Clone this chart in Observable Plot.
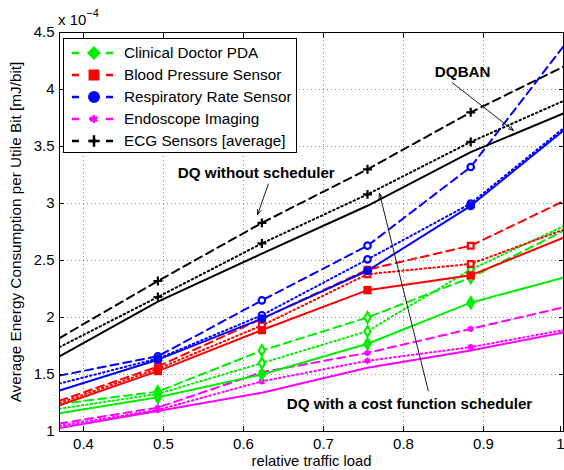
<!DOCTYPE html>
<html>
<head>
<meta charset="utf-8">
<script src="https://cdn.jsdelivr.net/npm/d3@7"></script>
<script src="https://cdn.jsdelivr.net/npm/@observablehq/plot@0.6"></script>
<style>
  html, body { margin: 0; padding: 0; background: #fff; }
  #wrap { position: relative; width: 564px; height: 470px; font-family: "Liberation Sans", Arial, Helvetica, sans-serif; }
  #exp { position: absolute; left: 58px; top: 9px; font-size: 15px; color: #000; }
  #exp sup { font-size: 11px; position: relative; top: -2px; }
  #legend { position: absolute; left: 63px; top: 38px; width: 234px; height: 115px; border: 1px solid #000; background: #fff; box-sizing: border-box; }
  .row { position: absolute; left: 0; height: 22px; display: flex; align-items: center; font-size: 15.3px; }
  .row svg { display: block; }
  .row span { margin-left: 2px; white-space: nowrap; }
</style>
</head>
<body>
<div id="wrap">
  <div id="chart"></div>
  <div id="exp">x 10<sup>−4</sup></div>
  <div id="legend"></div>
</div>
<script>
// ---- data ----
const categories = ["Clinical Doctor PDA", "Blood Pressure Sensor", "Respiratory Rate Sensor", "Endoscope Imaging", "ECG Sensors [average]"];
const colors = ["#00ee00", "#ff0000", "#0000ff", "#ff00ff", "#000000"];
const symbols = ["diamond", "square", "circle", "asterisk", "plus"];
const trafficLoad = [0.37, 0.493, 0.623, 0.755, 0.884, 1.0];
const markerIdx = [1, 2, 3, 4];

// DQBAN (solid)
const dqbanPDA = [1.16, 1.30, 1.50, 1.77, 2.13, 2.35];
const dqbanBP = [1.23, 1.53, 1.89, 2.24, 2.37, 2.70];
const dqbanRR = [1.36, 1.63, 1.99, 2.41, 2.98, 3.64];
const dqbanEndo = [1.03, 1.18, 1.34, 1.56, 1.71, 1.87];
const dqbanECG = [1.66, 2.14, 2.56, 2.98, 3.45, 3.79];

// DQ with a cost function scheduler (dotted)
const costPDA = [1.20, 1.33, 1.60, 1.88, 2.42, 2.80];
const costBP = [1.25, 1.55, 1.93, 2.38, 2.47, 2.77];
const costRR = [1.42, 1.64, 2.02, 2.51, 3.00, 3.66];
const costEndo = [1.05, 1.19, 1.44, 1.62, 1.74, 1.89];
const costECG = [1.74, 2.18, 2.65, 3.08, 3.54, 3.90];

// DQ without scheduler (dashed)
const noschPDA = [1.24, 1.35, 1.71, 2.00, 2.35, 2.76];
const noschBP = [1.27, 1.57, 1.99, 2.42, 2.63, 3.02];
const noschRR = [1.49, 1.66, 2.15, 2.63, 3.32, 4.38];
const noschEndo = [1.07, 1.21, 1.52, 1.69, 1.90, 2.09];
const noschECG = [1.82, 2.32, 2.83, 3.30, 3.80, 4.20];

const xTicks = [0.4, 0.5, 0.6, 0.7, 0.8, 0.9, 1.0];
const yTicks = [1, 1.5, 2, 2.5, 3, 3.5, 4, 4.5];

const yLabel = "Average Energy Consumption per Utile Bit [mJ/bit]";
const xLabel = "relative traffic load";

const annotations = [
  {text: "DQBAN", x: 0.874, y: 4.155, x1: 0.861, y1: 4.06, x2: 0.9375, y2: 3.64},
  {text: "DQ without scheduler", x: 0.616, y: 3.27, x1: 0.631, y1: 3.17, x2: 0.6175, y2: 2.90},
  {text: "DQ with a cost function scheduler", x: 0.8075, y: 1.24, x1: 0.831, y1: 1.357, x2: 0.770, y2: 3.09}
];

// ---- build tables ----
const schemes = [
  {name: "dqban", dash: null, filled: true, vals: [dqbanPDA, dqbanBP, dqbanRR, dqbanEndo, dqbanECG]},
  {name: "cost", dash: "1.5,3", filled: false, vals: [costPDA, costBP, costRR, costEndo, costECG]},
  {name: "nosch", dash: "8,5", filled: false, vals: [noschPDA, noschBP, noschRR, noschEndo, noschECG]}
];
function rows(s) {
  const out = [];
  s.vals.forEach((arr, ci) => arr.forEach((v, i) => out.push({x: trafficLoad[i], y: v, cat: categories[ci], sym: symbols[ci], i})));
  return out;
}
const isLineSym = d => d.sym === "plus" || d.sym === "asterisk";

const color = {domain: categories, range: colors};
const marks = [
  Plot.gridX(xTicks, {stroke: "#000", strokeOpacity: 0.45, strokeDasharray: "1,3"}),
  Plot.gridY(yTicks, {stroke: "#000", strokeOpacity: 0.45, strokeDasharray: "1,3"}),
];
for (const s of [schemes[2], schemes[1], schemes[0]]) {
  const data = rows(s);
  marks.push(Plot.line(data, {x: "x", y: "y", z: "cat", stroke: "cat", strokeWidth: 2, strokeDasharray: s.dash, clip: true}));
}
for (const s of [schemes[2], schemes[1], schemes[0]]) {
  const data = rows(s).filter(d => markerIdx.includes(d.i));
  marks.push(Plot.dot(data, {
    x: "x", y: "y", symbol: "sym", stroke: "cat", strokeWidth: 2.2,
    r: d => isLineSym(d) ? 3.6 : (s.filled ? 4.6 : 4.2),
    fill: d => isLineSym(d) ? "none" : (s.filled ? d.cat : "white")
  }));
}
// annotations
marks.push(Plot.arrow(annotations, {x1: "x1", y1: "y1", x2: "x2", y2: "y2", stroke: "#000", strokeWidth: 0.9, headLength: 9, headAngle: 40}));
marks.push(Plot.text(annotations, {x: "x", y: "y", text: "text", fontWeight: "bold", fontSize: 15.2, fill: "#000"}));
// frame & axes
const fmt = d => d === 1 ? "1" : d.toFixed(1);
marks.push(Plot.frame({stroke: "#000", strokeWidth: 1}));
marks.push(Plot.axisX(xTicks.filter(d => d < 1), {anchor: "bottom", tickSize: -5, tickPadding: 12, fontSize: 15, tickFormat: fmt, label: null}));
marks.push(Plot.axisX([1.0], {anchor: "bottom", tickSize: -5, tickPadding: 12, fontSize: 15, tickFormat: fmt, dx: -3, label: null}));
marks.push(Plot.axisX(xTicks, {anchor: "top", tickSize: -5, tickFormat: () => "", label: null}));
marks.push(Plot.axisY(yTicks, {anchor: "left", tickSize: -5, tickPadding: 10, fontSize: 15, tickFormat: d => String(d), label: null}));
marks.push(Plot.axisY(yTicks, {anchor: "right", tickSize: -5, tickFormat: () => "", label: null}));
marks.push(Plot.text([yLabel], {frameAnchor: "left", textAnchor: "middle", rotate: -90, dx: -43, fontSize: 15.3, fill: "#000"}));
marks.push(Plot.text([xLabel], {frameAnchor: "bottom", textAnchor: "middle", dy: 34, fontSize: 14.8, fill: "#000"}));

const chart = Plot.plot({
  width: 564, height: 470,
  marginLeft: 59, marginRight: 1, marginTop: 32, marginBottom: 39,
  x: {domain: [0.37, 1.0]},
  y: {domain: [1, 4.5]},
  color,
  symbol: {type: "identity"},
  style: {fontFamily: "'Liberation Sans', Arial, Helvetica, sans-serif", color: "#000", background: "#fff", overflow: "visible"},
  marks
});
document.getElementById("chart").appendChild(chart);

// ---- legend ----
const legend = document.getElementById("legend");
categories.forEach((c, i) => {
  const row = document.createElement("div");
  row.className = "row";
  row.style.top = (3 + i * 22) + "px";
  const ns = "http://www.w3.org/2000/svg";
  const svg = document.createElementNS(ns, "svg");
  svg.setAttribute("width", 58); svg.setAttribute("height", 22);
  const line = document.createElementNS(ns, "line");
  line.setAttribute("x1", 8); line.setAttribute("x2", 52); line.setAttribute("y1", 11); line.setAttribute("y2", 11);
  line.setAttribute("stroke", colors[i]); line.setAttribute("stroke-width", 2.5); line.setAttribute("stroke-dasharray", "7,10");
  svg.appendChild(line);
  const sym = {diamond: d3.symbolDiamond2, square: d3.symbolSquare, circle: d3.symbolCircle, asterisk: d3.symbolAsterisk, plus: d3.symbolPlus}[symbols[i]];
  const lineSym = symbols[i] === "plus" || symbols[i] === "asterisk";
  const p = document.createElementNS(ns, "path");
  p.setAttribute("d", d3.symbol(sym, lineSym ? 45 : 70)());
  p.setAttribute("transform", "translate(30,11)");
  p.setAttribute("fill", lineSym ? "none" : colors[i]);
  p.setAttribute("stroke", colors[i]); p.setAttribute("stroke-width", 2.5);
  svg.appendChild(p);
  row.appendChild(svg);
  const t = document.createElement("span");
  t.textContent = c;
  row.appendChild(t);
  legend.appendChild(row);
});
</script>
</body>
</html>
